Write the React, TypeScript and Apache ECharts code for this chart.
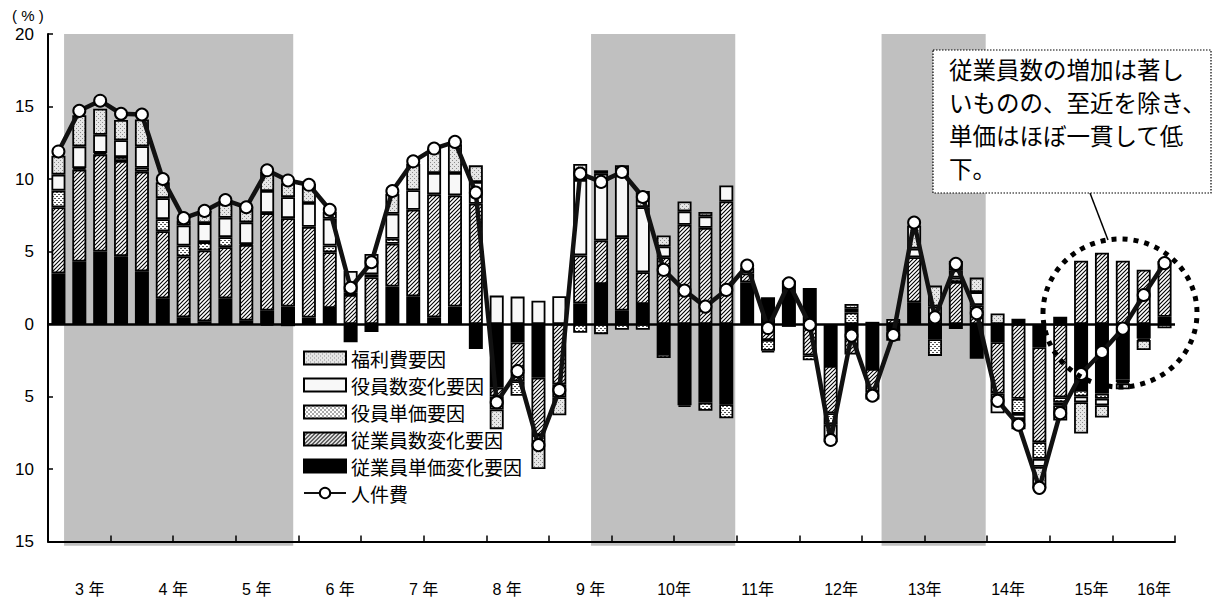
import React, { useEffect, useRef } from "react";
import * as echarts from "echarts";

// Fiscal years shown on the axis; each year has four quarters (16年 has two).
const years = ["3", "4", "5", "6", "7", "8", "9", "10", "11", "12", "13", "14", "15", "16"];
const quarterCounts = [4, 4, 4, 4, 4, 4, 4, 4, 4, 4, 4, 4, 4, 2];
const categories: string[] = [];
years.forEach((y, i) => {
  for (let q = 1; q <= quarterCounts[i]; q++) categories.push(`${y}年${q}Q`);
});

// Year label positions in quarter units along the axis, and their texts.
const yearLabelPos = [2, 6, 10, 14, 18, 22, 26, 30, 34, 38, 42, 46, 50, 53];
const yearLabels = ["3 年", "4 年", "5 年", "6 年", "7 年", "8 年", "9 年", "10年", "11年", "12年", "13年", "14年", "15年", "16年"];

// Recession periods (start, end) in quarter units.
const recessions = [
  [0.77, 11.75],
  [26.02, 32.93],
  [39.94, 44.93],
];

// 従業員単価変化要因
const empUnit = [
  3.5, 4.3, 5.0, 4.68, 3.64, 1.77, 0.46, 0.18, 1.77, 0.23, 0.92, 1.2, 0.45, 1.1, -1.25, -0.55,
  2.58, 1.91, 0.46, 1.2, -1.73, -4.4, -1.27, -3.7, 0, 1.43, 2.76, 0.92, 1.38, -2.07, -5.6, -5.42,
  -5.53, 2.88, 1.84, 3.0, 2.49, -2.9, -0.8, -3.1, -0.5, 1.5, -1.05, -0.35, -2.4, -1.25, 0.37, -1.6,
  0.5, -4.55, -4.8, -3.85, -1.0, 0.5,
];
// 従業員数変化要因
const empCount = [
  4.55, 6.35, 6.7, 6.56, 6.86, 4.63, 4.19, 4.89, 3.53, 5.23, 6.73, 6.1, 6.25, 3.85, 2.0, 3.23,
  2.95, 5.97, 8.48, 7.67, 8.29, -0.6, -2.68, -3.95, -4.15, 3.3, 3.0, 5.07, 2.19, 4.6, 6.85, 6.63,
  8.45, 0.6, -1.1, 0, -2.15, -3.25, -1.3, -1.6, 0.35, 3.1, 0.5, 2.9, 1.0, -3.55, -5.15, -6.55,
  -5.05, 4.37, 4.92, 4.37, 3.75, 3.85,
];
// 役員単価要因
const offUnit = [
  1.15, 0.1, 0.1, 0.28, 0.28, 0.83, 0.76, 0.58, 0.69, 0.05, -0.1, -0.15, 0, 0.46, 0.15, 0.2,
  0.35, 0, 0, 0, 0, -0.9, -1.0, -0.7, -0.9, -0.6, -0.7, -0.4, -0.4, -0.28, -0.12, -0.57,
  -0.97, 0, -0.75, -0.2, -0.35, -0.8, 0.8, -0.5, -0.65, 0, -1.15, 0.3, 0.3, -0.6, -1.05, -1.15,
  -0.35, -0.45, -0.35, -0.15, 0, 0,
];
// 役員数変化要因
const offCount = [
  1.1, 1.5, 1.25, 1.15, 1.48, 1.45, 1.39, 1.31, 1.34, 1.5, 1.52, 1.45, 1.65, 1.85, 1.5, 1.4,
  1.72, 1.34, 1.47, 1.54, 1.5, 1.96, 1.89, 1.61, 1.92, 5.2, 4.6, 4.26, 4.49, 0.75, 0.92, 0.79,
  1.11, 0, -0.1, 0, 0, 0, 0.25, 0.15, 0, 0.6, 0.7, 0.5, 0.9, -0.75, -0.35, -0.55,
  -0.2, -0.4, -0.45, -0.1, -0.1, 0,
];
// 福利費要因
const welfare = [
  1.3, 2.15, 1.8, 1.4, 1.84, 1.1, 0.34, 0.83, 0.96, 1.1, 1.31, 0.95, 1.3, 0.46, 0, 0,
  1.39, 1.84, 1.68, 1.98, 1.15, -1.35, 0, -1.65, -1.25, 1.1, 0.24, 0.7, 1.11, 0.76, 0.68, 0.3,
  0, 0.4, 0, 0, 0, -1.2, 0.33, 0, 0, 1.6, 1.45, 0.65, 1.0, 0.73, -0.7, -1.5,
  -1.05, -2.15, -0.85, -0.4, -0.7, -0.3,
];
// 人件費（前年同期比）
const laborCost = [
  11.9, 14.7, 15.4, 14.5, 14.45, 10.0, 7.3, 7.8, 8.55, 8.05, 10.6, 9.9, 9.6, 7.88, 2.5, 4.26,
  9.17, 11.22, 12.1, 12.56, 9.06, -5.4, -3.25, -8.35, -4.56, 10.37, 9.8, 10.48, 8.76, 3.73, 2.3, 1.2,
  2.35, 4.03, -0.28, 2.81, -0.05, -8.0, -0.8, -4.95, -0.76, 7.0, 0.46, 4.15, 0.75, -5.3, -6.95, -11.3,
  -6.15, -3.45, -1.93, -0.32, 2.0, 4.2,
];

const JP = "'Noto Sans CJK JP', sans-serif";
const LAT = "'Liberation Sans', 'Noto Sans CJK JP', sans-serif";

type Painter = (ctx: CanvasRenderingContext2D, w: number, h: number) => void;
function makePattern(w: number, h: number, paint: Painter) {
  const c = document.createElement("canvas");
  c.width = w;
  c.height = h;
  const ctx = c.getContext("2d")!;
  paint(ctx, w, h);
  return { image: c.toDataURL(), repeat: "repeat", imageWidth: w, imageHeight: h } as any;
}

export default function App() {
  const ref = useRef<HTMLDivElement>(null);

  useEffect(() => {
    if (!ref.current) return;
    const chart = echarts.init(ref.current, undefined, { renderer: "svg" });

    const hatch = makePattern(4, 4, (ctx) => {
      ctx.fillStyle = "#ffffff";
      ctx.fillRect(0, 0, 4, 4);
      ctx.strokeStyle = "#000000";
      ctx.lineWidth = 1.1;
      ctx.beginPath();
      ctx.moveTo(-1, 5);
      ctx.lineTo(5, -1);
      ctx.moveTo(-1, 1);
      ctx.lineTo(1, -1);
      ctx.moveTo(3, 5);
      ctx.lineTo(5, 3);
      ctx.stroke();
    });
    const coarseDots = makePattern(4, 4, (ctx) => {
      ctx.fillStyle = "#ffffff";
      ctx.fillRect(0, 0, 4, 4);
      ctx.fillStyle = "#555555";
      ctx.fillRect(0, 0, 2, 1);
      ctx.fillRect(2, 2, 2, 1);
    });
    const fineDots = makePattern(4, 4, (ctx) => {
      ctx.fillStyle = "#e6e6e6";
      ctx.fillRect(0, 0, 4, 4);
      ctx.fillStyle = "#8c8c8c";
      ctx.fillRect(0, 0, 1, 1);
      ctx.fillRect(2, 2, 1, 1);
    });

    const nz = (arr: number[]) => arr.map((v) => (v === 0 ? null : v));
    const barBase = {
      type: "bar",
      stack: "factors",
      barWidth: 14,
      z: 2,
      xAxisIndex: 0,
      yAxisIndex: 0,
    };
    const border = { borderColor: "#000", borderWidth: 1.8 };

    const option: any = {
      animation: false,
      backgroundColor: "#ffffff",
      textStyle: { fontFamily: JP, color: "#000" },
      grid: { left: 48, right: 46, top: 34, bottom: 61.5, containLabel: false },
      legend: {
        orient: "vertical",
        left: 298,
        top: 343,
        itemWidth: 42,
        itemHeight: 13,
        itemGap: 7,
        selectedMode: false,
        textStyle: { fontSize: 19, fontFamily: JP, color: "#000", lineHeight: 20 },
        data: [
          { name: "福利費要因", icon: "rect" },
          { name: "役員数変化要因", icon: "rect" },
          { name: "役員単価要因", icon: "rect" },
          { name: "従業員数変化要因", icon: "rect" },
          { name: "従業員単価変化要因", icon: "rect" },
          { name: "人件費" },
        ],
      },
      xAxis: [
        {
          type: "category",
          data: categories,
          position: "bottom",
          boundaryGap: true,
          axisLine: { onZero: false, lineStyle: { color: "#000", width: 2 } },
          axisTick: { show: true, inside: true, length: 6, lineStyle: { color: "#000", width: 1.5 } },
          axisLabel: { show: false },
          splitLine: { show: false },
        },
        {
          type: "value",
          min: 0,
          max: 54,
          position: "bottom",
          axisLine: { show: false, onZero: false },
          axisTick: { show: false },
          splitLine: { show: false },
          axisLabel: {
            customValues: yearLabelPos,
            formatter: (v: number) => yearLabels[yearLabelPos.indexOf(v)] ?? "",
            margin: 40,
            fontSize: 16,
            fontFamily: LAT,
            color: "#000",
          },
        },
      ],
      yAxis: {
        type: "value",
        min: -15,
        max: 20,
        interval: 5,
        axisLine: { show: true, lineStyle: { color: "#000", width: 2 } },
        axisTick: { show: true, inside: true, length: 5, lineStyle: { color: "#000", width: 1.5 } },
        splitLine: { show: false },
        axisLabel: {
          formatter: (v: number) => String(Math.abs(v)),
          fontSize: 17,
          fontFamily: LAT,
          color: "#000",
          margin: 14,
        },
      },
      series: [
        {
          type: "custom",
          xAxisIndex: 1,
          yAxisIndex: 0,
          silent: true,
          clip: false,
          z: 0,
          data: recessions,
          encode: { x: [0, 1] },
          renderItem: (_params: any, api: any) => {
            const p0 = api.coord([api.value(0), 20]);
            const p1 = api.coord([api.value(1), -15.3]);
            return {
              type: "rect",
              shape: { x: p0[0], y: p0[1], width: p1[0] - p0[0], height: p1[1] - p0[1] },
              style: { fill: "#c0c0c0" },
            };
          },
        },
        {
          ...barBase,
          name: "従業員単価変化要因",
          data: nz(empUnit),
          itemStyle: { color: "#000", ...border },
        },
        {
          ...barBase,
          name: "従業員数変化要因",
          data: nz(empCount),
          itemStyle: { color: hatch, ...border },
        },
        {
          ...barBase,
          name: "役員単価要因",
          data: nz(offUnit),
          itemStyle: { color: coarseDots, ...border },
        },
        {
          ...barBase,
          name: "役員数変化要因",
          data: nz(offCount),
          itemStyle: { color: "#f8f8f8", ...border },
        },
        {
          ...barBase,
          name: "福利費要因",
          data: nz(welfare),
          itemStyle: { color: fineDots, ...border },
        },
        {
          type: "line",
          name: "人件費",
          xAxisIndex: 0,
          yAxisIndex: 0,
          data: laborCost,
          z: 5,
          symbol: "circle",
          symbolSize: 12,
          lineStyle: { color: "#111", width: 4.5 },
          itemStyle: { color: "#fff", borderColor: "#000", borderWidth: 2 },
          markLine: {
            silent: true,
            symbol: "none",
            label: { show: false },
            lineStyle: { color: "#000", width: 2.5, type: "solid" },
            data: [{ yAxis: 0 }],
          },
        },
      ],
      graphic: [
        {
          type: "text",
          left: 12,
          top: 8,
          style: { text: "( % )", fontSize: 15, fontFamily: LAT, fill: "#000" },
        },
        {
          type: "line",
          shape: { x1: 1090, y1: 193, x2: 1108, y2: 240 },
          style: { stroke: "#000", lineWidth: 1.5 },
          z: 10,
        },
        {
          type: "ellipse",
          shape: { cx: 1120, cy: 313, rx: 77, ry: 74 },
          style: { fill: "none", stroke: "#000", lineWidth: 5, lineDash: [5, 6] },
          z: 10,
        },
        {
          type: "rect",
          shape: { x: 933, y: 50, width: 278, height: 143 },
          style: { fill: "#fff", stroke: "#000", lineWidth: 1.2, lineDash: [1.5, 1.5] },
          z: 10,
        },
        {
          type: "text",
          x: 949,
          y: 52,
          z: 11,
          style: {
            text: "従業員数の増加は著し\nいものの、至近を除き、\n単価はほぼ一貫して低\n下。",
            fontSize: 23.5,
            lineHeight: 33,
            fontFamily: JP,
            fill: "#000",
          },
        },
      ],
    };

    chart.setOption(option);
    return () => chart.dispose();
  }, []);

  return (
    <div
      ref={ref}
      style={{ position: "fixed", left: 0, top: 0, width: 1221, height: 603, background: "#fff" }}
    />
  );
}
